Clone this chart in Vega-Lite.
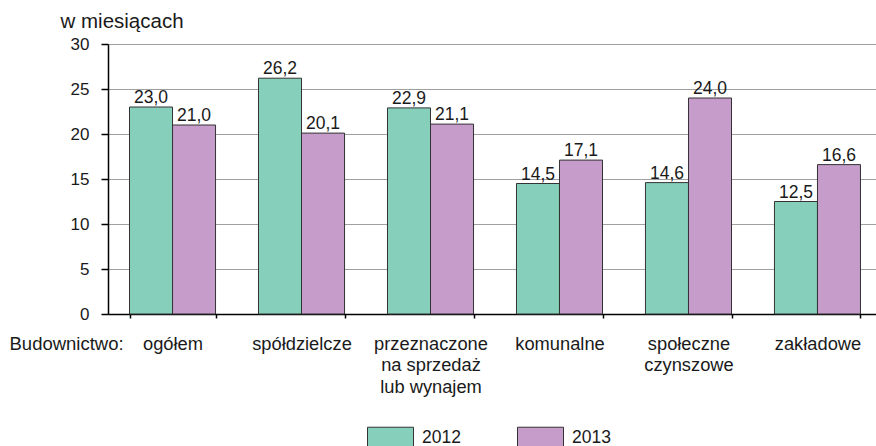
{
  "$schema": "https://vega.github.io/schema/vega-lite/v6.json",
  "width": 768,
  "height": 270,
  "autosize": {"type": "none"},
  "padding": {"left": 108, "top": 44, "right": 0, "bottom": 132},
  "background": "white",
  "config": {
    "font": "Liberation Sans",
    "view": {"stroke": null},
    "locale": {"number": {"decimal": ",", "thousands": " ", "grouping": [3], "currency": ["", " zł"]}}
  },
  "data": {
    "values": [
      {"kategoria": "ogółem", "rok": "2012", "wartosc": 23.0},
      {"kategoria": "ogółem", "rok": "2013", "wartosc": 21.0},
      {"kategoria": "spółdzielcze", "rok": "2012", "wartosc": 26.2},
      {"kategoria": "spółdzielcze", "rok": "2013", "wartosc": 20.1},
      {"kategoria": "przeznaczone|na sprzedaż|lub wynajem", "rok": "2012", "wartosc": 22.9},
      {"kategoria": "przeznaczone|na sprzedaż|lub wynajem", "rok": "2013", "wartosc": 21.1},
      {"kategoria": "komunalne", "rok": "2012", "wartosc": 14.5},
      {"kategoria": "komunalne", "rok": "2013", "wartosc": 17.1},
      {"kategoria": "społeczne|czynszowe", "rok": "2012", "wartosc": 14.6},
      {"kategoria": "społeczne|czynszowe", "rok": "2013", "wartosc": 24.0},
      {"kategoria": "zakładowe", "rok": "2012", "wartosc": 12.5},
      {"kategoria": "zakładowe", "rok": "2013", "wartosc": 16.6}
    ]
  },
  "encoding": {
    "x": {
      "field": "kategoria",
      "type": "nominal",
      "sort": null,
      "scale": {"range": [0, 774], "paddingInner": 0.333, "paddingOuter": 0.1667},
      "axis": {
        "title": "Budownictwo:",
        "titleFontSize": 18.5,
        "titleFontWeight": "normal",
        "titleColor": "#1a1a1a",
        "titleX": -99,
        "titleY": 35,
        "titleAlign": "left",
        "titleAnchor": null,
        "titleBaseline": "alphabetic",
        "labelAngle": 0,
        "labelFontSize": 18.3,
        "labelColor": "#1a1a1a",
        "labelBaseline": "alphabetic",
        "labelPadding": 31,
        "labelLineHeight": 21.5,
        "labelExpr": "split(datum.label, '|')",
        "labelLimit": 200,
        "tickBand": "extent",
        "tickSize": 4,
        "tickColor": "#000",
        "tickWidth": 1.5,
        "domainColor": "#000",
        "domainWidth": 1.5,
        "grid": false
      }
    },
    "y": {
      "field": "wartosc",
      "type": "quantitative",
      "scale": {"domain": [0, 30], "nice": false},
      "axis": {
        "title": "w miesiącach",
        "titleAngle": 0,
        "titleFontSize": 20.5,
        "titleFontWeight": "normal",
        "titleColor": "#1a1a1a",
        "titleX": -48,
        "titleY": -17,
        "titleAlign": "left",
        "titleAnchor": null,
        "titleBaseline": "alphabetic",
        "values": [0, 5, 10, 15, 20, 25, 30],
        "labelFontSize": 17,
        "labelColor": "#1a1a1a",
        "labelPadding": 12,
        "tickSize": 7,
        "tickColor": "#000",
        "tickWidth": 1.5,
        "domainColor": "#000",
        "domainWidth": 1.5,
        "grid": true,
        "gridColor": "#a0a0a0",
        "gridWidth": 1
      }
    },
    "xOffset": {"field": "rok", "type": "nominal", "scale": {"paddingInner": 0, "paddingOuter": 0}}
  },
  "layer": [
    {
      "mark": {"type": "bar", "stroke": "#333333", "strokeWidth": 1},
      "encoding": {
        "color": {
          "field": "rok",
          "type": "nominal",
          "scale": {"domain": ["2012", "2013"], "range": ["#86CFBA", "#C69CCA"]},
          "legend": {
            "title": null,
            "orient": "none",
            "direction": "horizontal",
            "legendX": 259,
            "legendY": 370,
            "padding": 0,
            "symbolType": "M-1,-0.45H1V0.45H-1Z",
            "symbolSize": 2116,
            "symbolStrokeColor": "#333333",
            "symbolStrokeWidth": 1,
            "symbolOpacity": 1,
            "labelFontSize": 17.5,
            "labelColor": "#1a1a1a",
            "labelOffset": 8,
            "columnPadding": 54
          }
        }
      }
    },
    {
      "mark": {"type": "text", "baseline": "alphabetic", "dy": -4, "fontSize": 17.5, "color": "#1a1a1a"},
      "encoding": {
        "text": {"field": "wartosc", "type": "quantitative", "format": ".1f"}
      }
    }
  ]
}
